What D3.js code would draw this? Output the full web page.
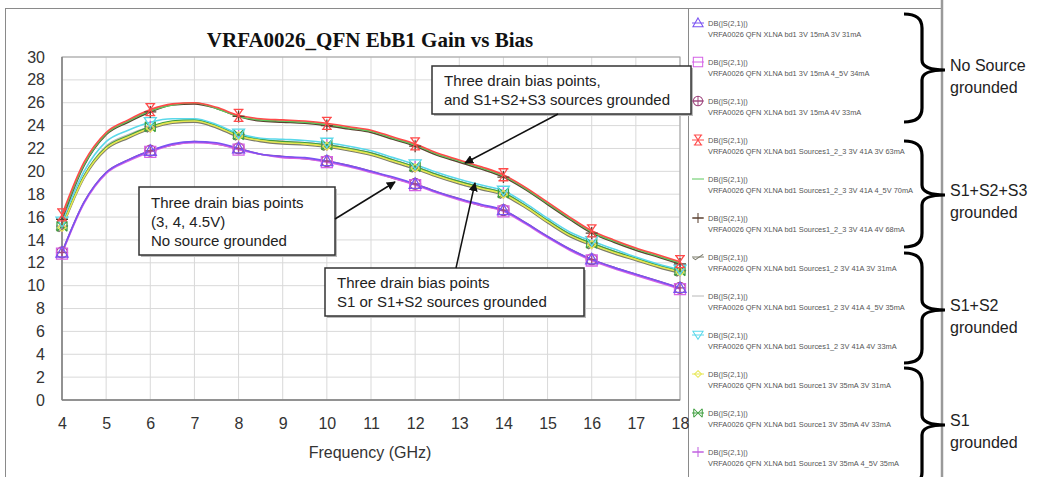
<!DOCTYPE html>
<html><head><meta charset="utf-8">
<script src="https://cdn.jsdelivr.net/npm/d3@7"></script>
<style>body{margin:0;background:#fff}svg{display:block}</style>
</head><body>
<svg id="c" width="1039" height="477"></svg>
<script>
const freqs = [4,4.5,5,5.5,6,6.5,7,7.5,8,8.5,9,9.5,10,10.5,11,11.5,12,12.5,13,13.5,14,14.5,15,15.5,16,16.5,17,17.5,18];
const markerFreqs = [4,6,8,10,12,14,16,18];
const xTicks = [4,5,6,7,8,9,10,11,12,13,14,15,16,17,18];
const yTicks = [0,2,4,6,8,10,12,14,16,18,20,22,24,26,28,30];

const nsrc3V  = [12.9,17.3,19.9,21.0,21.8,22.4,22.6,22.5,22.0,21.5,21.3,21.2,20.9,20.5,20.0,19.5,18.9,18.2,17.6,17.1,16.6,15.5,14.3,13.2,12.3,11.6,11.0,10.4,9.8];
const nsrc45V = [12.8,17.2,19.8,20.9,21.7,22.3,22.5,22.4,21.9,21.5,21.2,21.1,20.8,20.4,19.9,19.4,18.8,18.1,17.5,17.0,16.5,15.4,14.2,13.1,12.2,11.5,10.9,10.3,9.7];
const nsrc4V  = [12.9,17.3,19.9,21.0,21.8,22.3,22.6,22.4,22.0,21.5,21.3,21.1,20.9,20.5,20.0,19.4,18.9,18.2,17.6,17.0,16.6,15.5,14.3,13.2,12.3,11.6,11.0,10.4,9.8];
const s123_3V  = [16.2,20.8,23.4,24.5,25.4,25.9,26.0,25.6,24.9,24.6,24.5,24.4,24.2,23.9,23.6,23.0,22.4,21.6,21.0,20.4,19.7,18.6,17.3,16.0,14.8,14.0,13.3,12.7,12.1];
const s123_45V = [16.0,20.6,23.3,24.4,25.3,25.8,26.0,25.5,24.8,24.5,24.4,24.3,24.1,23.8,23.5,22.9,22.3,21.5,20.9,20.3,19.6,18.5,17.2,15.9,14.7,13.9,13.2,12.6,12.0];
const s123_4V  = [15.8,20.5,23.2,24.3,25.2,25.8,25.9,25.5,24.8,24.4,24.3,24.2,24.0,23.7,23.4,22.8,22.2,21.4,20.8,20.2,19.5,18.4,17.1,15.8,14.6,13.8,13.1,12.5,11.9];
const s12_3V  = [15.0,19.4,21.9,22.9,23.7,24.2,24.3,23.8,23.0,22.6,22.4,22.3,22.1,21.8,21.4,20.8,20.2,19.5,18.9,18.4,17.9,16.8,15.5,14.3,13.5,12.8,12.2,11.6,11.1];
const s12_45V = [15.2,19.6,22.2,23.2,23.9,24.3,24.4,23.9,23.1,22.7,22.6,22.5,22.3,22.0,21.6,21.0,20.4,19.7,19.1,18.6,18.1,17.0,15.7,14.5,13.7,13.0,12.3,11.7,11.2];
const s12_4V  = [15.6,20.0,22.6,23.6,24.3,24.6,24.6,24.1,23.3,22.9,22.8,22.7,22.5,22.2,21.8,21.2,20.6,19.9,19.3,18.8,18.3,17.2,15.9,14.7,13.9,13.2,12.5,11.9,11.4];
const s1_3V   = [15.1,19.5,22.0,23.0,23.8,24.3,24.4,23.9,23.1,22.7,22.5,22.4,22.2,21.9,21.5,20.9,20.3,19.6,19.0,18.5,18.0,16.9,15.6,14.4,13.6,12.9,12.3,11.7,11.2];
const s1_4V   = [15.2,19.6,22.1,23.1,23.9,24.4,24.5,24.0,23.2,22.8,22.6,22.5,22.3,22.0,21.6,21.0,20.4,19.7,19.1,18.6,18.1,17.0,15.7,14.5,13.7,13.0,12.4,11.8,11.3];
const s1_45V  = [15.2,19.6,22.1,23.1,23.9,24.3,24.4,23.9,23.1,22.7,22.6,22.5,22.3,22.0,21.6,21.0,20.4,19.7,19.1,18.6,18.1,17.0,15.7,14.5,13.7,13.0,12.4,11.8,11.3];

const legendNames = [
 "VRFA0026 QFN XLNA bd1 3V 15mA 3V 31mA",
 "VRFA0026 QFN XLNA bd1 3V 15mA 4_5V 34mA",
 "VRFA0026 QFN XLNA bd1 3V 15mA 4V 33mA",
 "VRFA0026 QFN XLNA bd1 Sources1_2_3 3V 41A 3V 63mA",
 "VRFA0026 QFN XLNA bd1 Sources1_2_3 3V 41A 4_5V 70mA",
 "VRFA0026 QFN XLNA bd1 Sources1_2_3 3V 41A 4V 68mA",
 "VRFA0026 QFN XLNA bd1 Sources1_2 3V 41A 3V 31mA",
 "VRFA0026 QFN XLNA bd1 Sources1_2 3V 41A 4_5V 35mA",
 "VRFA0026 QFN XLNA bd1 Sources1_2 3V 41A 4V 33mA",
 "VRFA0026 QFN XLNA bd1 Source1 3V 35mA 3V 31mA",
 "VRFA0026 QFN XLNA bd1 Source1 3V 35mA 4V 33mA",
 "VRFA0026 QFN XLNA bd1 Source1 3V 35mA 4_5V 35mA"
];
const seriesValues = [nsrc3V, nsrc45V, nsrc4V, s123_3V, s123_45V, s123_4V, s12_3V, s12_45V, s12_4V, s1_3V, s1_4V, s1_45V];
const seriesColors = ["#7a52f2","#d462e6","#a04a80","#ff4a4a","#5cc85c","#5a4030","#7a7a6a","#b8b8b8","#5ad8ea","#e6e650","#3e9e3e","#c060e0"];
const seriesMarkers = ["tri","square","circX","hourglass","none","plus","check","none","itri","diamond","xbar","plus"];
const drawOrder = [11,7,6,10,9,8,5,4,3,2,1,0];
const groupLabels = [["No Source","grounded"],["S1+S2+S3","grounded"],["S1+S2","grounded"],["S1","grounded"]];
const seriesLabel = "DB(|S(2,1)|)";
const title = "VRFA0026_QFN EbB1 Gain vs Bias";
const xTitle = "Frequency (GHz)";
const notes = [
 {lines:["Three drain bias points,","and S1+S2+S3 sources grounded"], box:[432,66,691,114], from:[558,114], to:[465,163]},
 {lines:["Three drain bias points","(3, 4, 4.5V)","No source grounded"], box:[139,187,335,255], from:[335,219], to:[395,182]},
 {lines:["Three drain bias points","S1 or S1+S2 sources grounded"], box:[325,268,584,316], from:[456,268], to:[475,183]}
];

const svg = d3.select("#c");
const F = "Liberation Sans, Arial, sans-serif";

// outer frames
svg.append("rect").attr("x",5.5).attr("y",8.5).attr("width",936).attr("height",470).attr("fill","none").attr("stroke","#8a8a8a").attr("stroke-width",1);
svg.append("line").attr("x1",688.5).attr("x2",688.5).attr("y1",8).attr("y2",477).attr("stroke","#8a8a8a");
svg.append("line").attr("x1",942).attr("x2",942).attr("y1",0).attr("y2",477).attr("stroke","#9a9a9a").attr("stroke-width",2.5);

const x = d3.scaleLinear().domain([4,18]).range([62,680]);
const y = d3.scaleLinear().domain([0,30]).range([400,57]);

// grid
svg.append("g").selectAll("line").data(xTicks).join("line")
  .attr("x1",d=>x(d)).attr("x2",d=>x(d)).attr("y1",y(30)).attr("y2",y(0)).attr("stroke","#d9d9d9");
svg.append("g").selectAll("line").data(yTicks).join("line")
  .attr("x1",x(4)).attr("x2",x(18)).attr("y1",d=>y(d)).attr("y2",d=>y(d)).attr("stroke","#d9d9d9");
svg.append("rect").attr("x",x(4)).attr("y",y(30)).attr("width",x(18)-x(4)).attr("height",y(0)-y(30)).attr("fill","none").attr("stroke","#a0a0a0");
svg.append("line").attr("x1",x(4)).attr("x2",x(4)).attr("y1",y(30)).attr("y2",y(0)).attr("stroke","#808080").attr("stroke-width",1.5);
svg.append("line").attr("x1",x(4)).attr("x2",x(18)).attr("y1",y(0)).attr("y2",y(0)).attr("stroke","#808080").attr("stroke-width",1.5);

// axes
const xAxis = svg.append("g").attr("transform",`translate(0,${y(0)})`)
  .call(d3.axisBottom(x).tickValues(xTicks).tickSize(0).tickPadding(18).tickFormat(d3.format("d")));
xAxis.select(".domain").remove();
xAxis.selectAll("text").attr("font-family",F).attr("font-size",16).attr("fill","#333");
const yAxis = svg.append("g").attr("transform",`translate(${x(4)},0)`)
  .call(d3.axisLeft(y).tickValues(yTicks).tickSize(0).tickPadding(17).tickFormat(d3.format("d")));
yAxis.select(".domain").remove();
yAxis.selectAll("text").attr("font-family",F).attr("font-size",16).attr("fill","#333");

svg.append("text").attr("x",370).attr("y",458).attr("text-anchor","middle").attr("font-family",F).attr("font-size",16).attr("fill","#333").text(xTitle);
svg.append("text").attr("x",370).attr("y",47).attr("text-anchor","middle").attr("font-family","Liberation Serif, Times New Roman, serif").attr("font-weight","bold").attr("font-size",21).attr("fill","#111").text(title);

// markers
function markerPath(t){
  switch(t){
    case "tri": return "M0,-6L6,4.5L-6,4.5Z";
    case "itri": return "M0,5L6,-4.5L-6,-4.5Z";
    case "square": return "M-5.5,-5.5H5.5V5.5H-5.5Z";
    case "circX": return "M-5.5,0A5.5,5.5 0 1 0 5.5,0A5.5,5.5 0 1 0 -5.5,0M-5.5,0H5.5M0,-5.5V5.5";
    case "hourglass": return "M-5,-6H5M-5,6H5M-4,-6L4,6M4,-6L-4,6";
    case "plus": return "M-6,0H6M0,-6V6";
    case "check": return "M-6,1L-3,3L6,-3";
    case "diamond": return "M0,-4L4,0L0,4L-4,0Z";
    case "xbar": return "M-5,-5V5M5,-5V5M-5,-5L5,5M-5,5L5,-5";
    default: return "M-6,0H6";
  }
}
const line = d3.line().x(d=>x(d[0])).y(d=>y(d[1])).curve(d3.curveMonotoneX);
const plot = svg.append("g");
drawOrder.forEach(i=>{
  const pts = freqs.map((f,j)=>[f,seriesValues[i][j]]);
  plot.append("path").datum(pts).attr("d",line).attr("fill","none")
    .attr("stroke",seriesColors[i]).attr("stroke-width",1.6);
});
drawOrder.forEach(i=>{
  if(seriesMarkers[i]==="none") return;
  const pts = freqs.map((f,j)=>[f,seriesValues[i][j]]).filter(p=>markerFreqs.includes(p[0]));
  plot.append("g").selectAll("path").data(pts).join("path")
    .attr("transform",d=>`translate(${x(d[0])},${y(d[1])})`)
    .attr("d",markerPath(seriesMarkers[i])).attr("fill","none")
    .attr("stroke",seriesColors[i]).attr("stroke-width",1.3);
});

// annotations
svg.append("defs").append("marker").attr("id","ah").attr("viewBox","0 0 10 10").attr("refX",9).attr("refY",5)
  .attr("markerWidth",9).attr("markerHeight",9).attr("markerUnits","userSpaceOnUse").attr("orient","auto")
  .append("path").attr("d","M0,0L10,5L0,10Z").attr("fill","#111");
notes.forEach(n=>{
  const [x0,y0,x1,y1]=n.box;
  svg.append("rect").attr("x",x0+2).attr("y",y0+2).attr("width",x1-x0).attr("height",y1-y0).attr("fill","#bbb");
  svg.append("rect").attr("x",x0).attr("y",y0).attr("width",x1-x0).attr("height",y1-y0).attr("fill","#fff").attr("stroke","#333").attr("stroke-width",1.5);
  const lh = n.lines.length===3?19:18.5;
  const t0 = y0 + (y1-y0)/2 - (n.lines.length-1)*lh/2 + 5.5;
  n.lines.forEach((s,k)=>svg.append("text").attr("x",x0+12).attr("y",t0+k*lh).attr("font-family",F).attr("font-size",15).attr("fill","#222").text(s));
  svg.append("line").attr("x1",n.from[0]).attr("y1",n.from[1]).attr("x2",n.to[0]).attr("y2",n.to[1]).attr("stroke","#111").attr("stroke-width",1.5).attr("marker-end","url(#ah)");
});

// legend
const lg = svg.append("g");
legendNames.forEach((name,i)=>{
  const yy = 23 + i*39;
  const g = lg.append("g");
  g.append("path").attr("d","M-6,0H6").attr("transform",`translate(698,${yy})`).attr("stroke",seriesColors[i]).attr("stroke-width",1);
  if(seriesMarkers[i]!=="none")
    g.append("path").attr("d",markerPath(seriesMarkers[i])).attr("transform",`translate(698,${yy}) scale(0.85)`).attr("fill","none").attr("stroke",seriesColors[i]).attr("stroke-width",1.2);
  g.append("text").attr("x",708).attr("y",yy+3).attr("font-family",F).attr("font-size",7.5).attr("fill","#555").text(seriesLabel);
  g.append("text").attr("x",708).attr("y",yy+14).attr("font-family",F).attr("font-size",7.4).attr("fill","#555").text(name);
});

// braces
const braces = [[14,70,122],[141,195,247],[253,310,363],[368,425,486]];
braces.forEach(([t,m,b],k)=>{
  const xs=904, xm=922, xp=945;
  const p = `M${xs},${t} Q${xm},${t} ${xm},${t+14} L${xm},${m-10} Q${xm},${m} ${xp},${m} Q${xm},${m} ${xm},${m+10} L${xm},${b-14} Q${xm},${b} ${xs},${b}`;
  svg.append("path").attr("d",p).attr("fill","none").attr("stroke","#000").attr("stroke-width",3.2);
  groupLabels[k].forEach((s,j)=>svg.append("text").attr("x",950).attr("y",m+1+j*22).attr("font-family",F).attr("font-size",16).attr("fill","#222").text(s));
});
</script>
</body></html>
